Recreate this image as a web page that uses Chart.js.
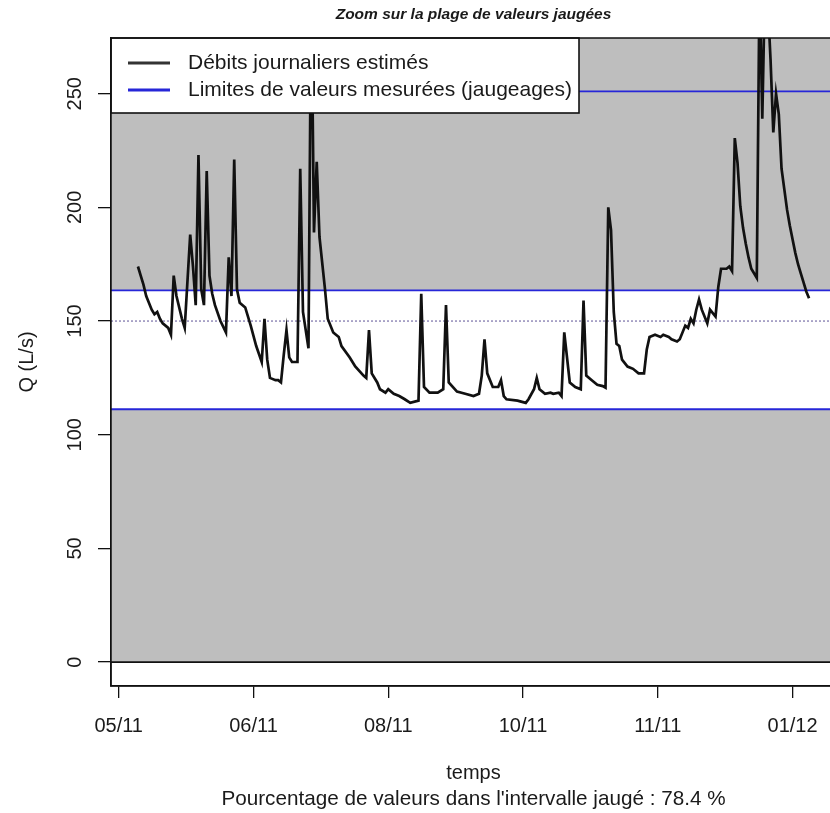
<!DOCTYPE html>
<html>
<head>
    <title>Zoom sur la plage de valeurs jaugées</title>
    <script src="https://cdn.jsdelivr.net/npm/chart.js"></script>
    <style>
        body { margin: 0; overflow: hidden; background: #fff; }
    </style>
</head>
<body>
    <canvas id="myChart" width="840" height="813"></canvas>

    <script>
        // débits journaliers estimés : jour (compté depuis le 1er repère de l'axe) et Q en L/s
        var days = [7, 8, 9, 10, 12, 13, 14, 15, 16, 18, 19, 20, 21, 23, 24, 26, 27, 28, 29, 30,
            31, 32, 33, 34, 35, 37, 39, 40, 41, 42, 43, 44, 46, 48, 50, 52, 53, 54, 55, 57,
            58, 59, 60, 61, 62, 63, 64, 65, 66, 67, 69, 70, 71, 72, 73, 75, 76, 78, 80, 81,
            84, 86, 89, 90, 91, 92, 94, 95, 97, 98, 100, 102, 104, 106, 109, 110, 111, 113, 116, 118,
            119, 120, 123, 126, 129, 131, 132, 133, 134, 136, 138, 139, 140, 141, 145, 148, 149, 151, 152, 153,
            155, 157, 158, 160, 161, 162, 164, 166, 168, 169, 170, 172, 174, 176, 177, 178, 179, 180, 181, 182,
            183, 185, 187, 189, 191, 192, 193, 195, 197, 198, 200, 201, 203, 204, 206, 207, 208, 209, 210, 211,
            212, 214, 215, 217, 218, 219, 221, 222, 223, 224, 225, 226, 227, 228, 229, 230, 231, 232, 233, 234,
            235, 236, 237, 238, 239, 240, 241, 242, 243, 244, 245, 246, 247, 248, 249, 250, 251];
        var flows = [174, 170, 166, 161, 155, 153, 154, 151, 149, 147, 144, 170, 161, 151, 147, 188, 174, 157, 223, 164,
            157, 216, 170, 162, 157, 150, 145, 178, 161, 221, 164, 158, 156, 148, 139, 132, 151, 133, 125, 124,
            124, 123, 135, 146, 134, 132, 132, 132, 217, 154, 138, 300, 189, 220, 187, 164, 151, 145, 143, 139,
            134, 130, 126, 125, 146, 127, 123, 120, 118.5, 120, 118, 117, 115.6, 114, 115, 162, 121, 118.5, 118.5, 120,
            157, 123, 119, 118, 117, 118, 126, 142, 127, 121, 121, 124, 117, 115.6, 115, 114, 115.6, 120, 125, 120,
            118, 118.5, 118, 118.5, 117, 145, 123, 121, 120, 159, 126, 124, 122, 121.4, 120.7, 200, 190, 154, 140, 139,
            133, 130, 129, 127, 127, 137.5, 143, 144, 143, 144, 143, 142, 141, 142, 148, 147, 151, 149, 155, 159.5,
            155, 149, 155, 152, 165, 173, 173, 174, 172, 230.5, 219.5, 200.5, 191, 184, 178, 173, 171, 169, 300, 239,
            300, 290, 265, 233, 250, 241, 217, 208, 199, 192, 186, 180, 175, 171, 167, 163, 160];

        var tickDays = [0, 49, 98, 147, 196, 245];
        var tickLabels = ['05/11', '06/11', '08/11', '10/11', '11/11', '01/12'];
        var yTicks = [0, 50, 100, 150, 200, 250];

        // bornes des jaugeages
        var lowLimit = 111.2;
        var highLimit = 163.5;
        var topGauged = 251;
        var midLine = 150;
        var pctInRange = 78.4;

        var FONT = '"Liberation Sans", Arial, sans-serif';
        var INK = '#1a1a1a';
        Chart.defaults.font.family = FONT;
        Chart.defaults.color = INK;

        function hline(ctx, area, py, color, width, dash) {
            ctx.beginPath();
            ctx.setLineDash(dash || []);
            ctx.strokeStyle = color;
            ctx.lineWidth = width;
            ctx.moveTo(area.left, py);
            ctx.lineTo(area.right, py);
            ctx.stroke();
        }

        // fond gris hors de l'intervalle jaugé + lignes horizontales
        var bandsPlugin = {
            id: 'bands',
            beforeDatasetsDraw: function(chart) {
                var ctx = chart.ctx, a = chart.chartArea, y = chart.scales.y;
                var y0 = y.getPixelForValue(0);
                var yLo = y.getPixelForValue(lowLimit);
                var yHi = y.getPixelForValue(highLimit);
                ctx.save();
                ctx.beginPath();
                ctx.rect(a.left, a.top, a.right - a.left, a.bottom - a.top);
                ctx.clip();
                ctx.fillStyle = '#bebebe';
                ctx.fillRect(a.left, a.top, a.right - a.left, y0 - a.top);
                ctx.fillStyle = '#ffffff';
                ctx.fillRect(a.left, yHi, a.right - a.left, yLo - yHi);
                hline(ctx, a, y.getPixelForValue(midLine), '#8c84b4', 1.4, [2, 2]);
                hline(ctx, a, yLo, '#2626d8', 1.8);
                hline(ctx, a, yHi, '#2626d8', 1.8);
                hline(ctx, a, y.getPixelForValue(topGauged), '#2626d8', 1.8);
                hline(ctx, a, y0, '#111', 1.6);
                ctx.restore();
            }
        };

        // légende encadrée en haut à gauche + cadre du graphique
        var legendBoxPlugin = {
            id: 'legendBox',
            afterDatasetsDraw: function(chart) {
                var ctx = chart.ctx, a = chart.chartArea;
                var items = [
                    {text: 'Débits journaliers estimés', color: '#333'},
                    {text: 'Limites de valeurs mesurées (jaugeages)', color: '#2626d8'}
                ];
                ctx.save();
                ctx.fillStyle = '#fff';
                ctx.fillRect(a.left, a.top, 468, 75);
                ctx.strokeStyle = '#111';
                ctx.lineWidth = 1.6;
                ctx.strokeRect(a.left, a.top, 468, 75);
                ctx.font = '21px ' + FONT;
                ctx.textBaseline = 'middle';
                items.forEach(function(it, i) {
                    var py = a.top + 25 + i * 27;
                    ctx.beginPath();
                    ctx.strokeStyle = it.color;
                    ctx.lineWidth = 3;
                    ctx.moveTo(a.left + 17, py);
                    ctx.lineTo(a.left + 59, py);
                    ctx.stroke();
                    ctx.fillStyle = INK;
                    ctx.fillText(it.text, a.left + 77, py);
                });
                ctx.restore();
            },
            afterDraw: function(chart) {
                var ctx = chart.ctx, a = chart.chartArea;
                ctx.save();
                ctx.strokeStyle = '#111';
                ctx.lineWidth = 1.5;
                ctx.strokeRect(a.left, a.top, a.right - a.left, a.bottom - a.top);
                ctx.restore();
            }
        };

        new Chart(document.getElementById('myChart'), {
            type: 'line',
            data: {
                datasets: [{
                    label: 'Débits journaliers estimés',
                    data: days.map(function(d, i) { return {x: d, y: flows[i]}; }),
                    borderColor: '#111',
                    borderWidth: 2.7,
                    pointRadius: 0,
                    tension: 0
                }]
            },
            options: {
                responsive: false,
                animation: false,
                layout: { padding: { left: 0, right: 4, top: 0, bottom: 0 } },
                plugins: {
                    legend: { display: false },
                    tooltip: { enabled: false },
                    title: {
                        display: true,
                        fullSize: false,
                        text: 'Zoom sur la plage de valeurs jaugées',
                        color: INK,
                        font: { size: 15.5, style: 'italic', weight: 'bold' },
                        padding: { top: 5, bottom: 14.4 }
                    },
                    subtitle: {
                        display: true,
                        position: 'bottom',
                        fullSize: false,
                        text: 'Pourcentage de valeurs dans l\'intervalle jaugé : ' + pctInRange + ' %',
                        color: INK,
                        font: { size: 20.7 },
                        padding: { top: 0, bottom: 1.2 }
                    }
                },
                scales: {
                    x: {
                        type: 'linear',
                        min: -2.8,
                        max: 260.8,
                        afterBuildTicks: function(s) { s.ticks = tickDays.map(function(v) { return {value: v}; }); },
                        afterFit: function(s) { s.height = 101; },
                        ticks: {
                            autoSkip: false,
                            maxRotation: 0,
                            padding: 17,
                            font: { size: 20 },
                            color: INK,
                            callback: function(v) { return tickLabels[tickDays.indexOf(v)]; }
                        },
                        grid: { drawOnChartArea: false, tickLength: 12, color: '#111', lineWidth: 1.3 },
                        border: { display: true, color: '#111', width: 1.5 },
                        title: { display: true, text: 'temps', color: INK, font: { size: 20 }, padding: { top: 0, bottom: 1 } }
                    },
                    y: {
                        min: -10.5,
                        max: 274.5,
                        afterBuildTicks: function(s) { s.ticks = yTicks.map(function(v) { return {value: v}; }); },
                        afterFit: function(s) { s.width = 111; },
                        ticks: {
                            minRotation: 90,
                            maxRotation: 90,
                            crossAlign: 'center',
                            padding: 6,
                            font: { size: 20 },
                            color: INK
                        },
                        grid: { drawOnChartArea: false, tickLength: 13, color: '#111', lineWidth: 1.3 },
                        border: { display: true, color: '#111', width: 1.5 },
                        title: { display: true, text: 'Q (L/s)', color: INK, font: { size: 20 }, padding: { top: 15, bottom: 0 } }
                    }
                }
            },
            plugins: [bandsPlugin, legendBoxPlugin]
        });
    </script>
</body>
</html>
